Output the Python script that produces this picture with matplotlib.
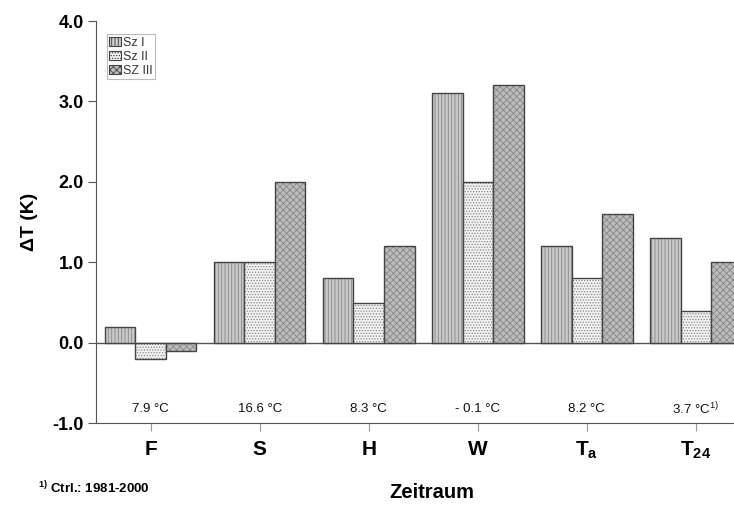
import matplotlib
matplotlib.use("Agg")
import matplotlib.pyplot as plt
import numpy as np

categories = ["F", "S", "H", "W", r"T$_\mathregular{a}$", r"T$_\mathregular{24}$"]
sz1 = [0.2, 1.0, 0.8, 3.1, 1.2, 1.3]
sz2 = [-0.2, 1.0, 0.5, 2.0, 0.8, 0.4]
sz3 = [-0.1, 2.0, 1.2, 3.2, 1.6, 1.0]
series_names = ["Sz I", "Sz II", "SZ III"]
temps = ["7.9 °C", "16.6 °C", "8.3 °C", "- 0.1 °C", "8.2 °C", "3.7 °C$^\\mathregular{1)}$"]
yticks = [-1.0, 0.0, 1.0, 2.0, 3.0, 4.0]

plt.rcParams['font.family'] = ['Liberation Sans', 'DejaVu Sans']
plt.rcParams['hatch.linewidth'] = 0.6

fig = plt.figure(figsize=(7.34, 5.13), dpi=100)
ax = fig.add_axes([0.131, 0.175, 0.869, 0.784])

x = np.arange(len(categories))
w = 0.28
styles = [
    dict(facecolor="#c8c8c8", hatch="|||||"),
    dict(facecolor="#f2f2f2", hatch="......"),
    dict(facecolor="#bcbcbc", hatch="xxxxx"),
]
for i, (vals, name) in enumerate(zip([sz1, sz2, sz3], series_names)):
    st = styles[i]
    ax.bar(x + (i - 1) * w, vals, w, facecolor=st["facecolor"],
           hatch=st["hatch"], edgecolor="#888888", linewidth=0.0)
    ax.bar(x + (i - 1) * w, vals, w, facecolor="none", edgecolor="#444444", linewidth=1.0)

ax.axhline(0, color="#555555", linewidth=1.0, zorder=0.5)

ax.set_ylim(-1.0, 4.0)
ax.set_xlim(-0.5, 5.35)
ax.set_yticks(yticks)
ax.set_yticklabels([f"{v:.1f}" for v in yticks], fontsize=13, fontweight="bold")
ax.set_xticks(x)
ax.set_xticklabels(categories, fontsize=15, fontweight="bold")
ax.tick_params(axis="y", direction="out", length=6, color="#555555", pad=3)
ax.tick_params(axis="x", direction="out", length=6, color="#999999", pad=6)

ax.spines["top"].set_visible(False)
ax.spines["right"].set_visible(False)
ax.spines["left"].set_color("#555555")
ax.spines["bottom"].set_color("#555555")

for xi, t in zip(x, temps):
    ax.text(xi, -0.82, t, ha="center", va="center", fontsize=9.5, color="#111111")

ax.set_ylabel("ΔT (K)", fontsize=14, fontweight="bold", labelpad=10)
fig.text(432 / 734, 1 - 492 / 513, "Zeitraum", fontsize=14.5, fontweight="bold",
         ha="center", va="center")

fig.text(38 / 734, 1 - 488 / 513, "$^\\mathregular{1)}$ Ctrl.: 1981-2000", fontsize=9.5,
         fontweight="bold", ha="left", va="center")

handles = [plt.Rectangle((0, 0), 1, 1, facecolor=s["facecolor"], hatch=s["hatch"],
                         edgecolor="#444444", linewidth=0.8) for s in styles]
leg = ax.legend(handles, series_names, loc="upper left", bbox_to_anchor=(0.017, 0.967),
                fontsize=9, frameon=True, fancybox=False, edgecolor="#aaaaaa",
                handlelength=0.9, handleheight=0.7, handletextpad=0.2,
                borderpad=0.2, labelspacing=0.15, borderaxespad=0.0)
for t in leg.get_texts():
    t.set_color("#333333")
leg.get_frame().set_linewidth(0.8)

fig.savefig("out.png", dpi=100)
